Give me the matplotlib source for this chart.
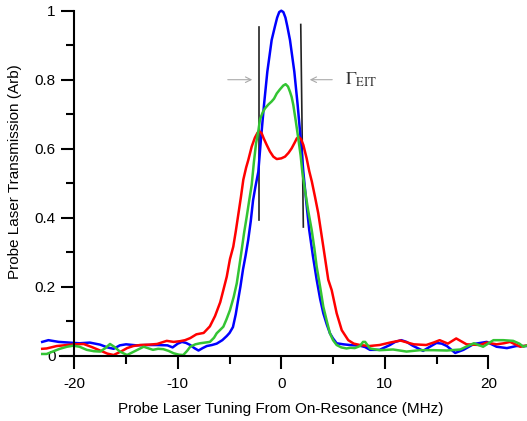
import matplotlib
matplotlib.use("Agg")
import matplotlib.pyplot as plt
from matplotlib.ticker import FixedLocator, FuncFormatter

plt.rcParams["font.family"] = ["Liberation Sans", "DejaVu Sans"]
plt.rcParams["axes.unicode_minus"] = False
plt.rcParams["mathtext.fontset"] = "stix"

# probe detuning (MHz) / transmission (arb)
blue_x = [-23.1, -22.5, -21.5, -20.5, -19.5, -18.5, -17.5, -16.8, -16.2, -15.6, -15.0,
          -14.0, -13.0, -12.0, -11.0, -10.5, -10.0, -9.6, -9.2, -8.8, -8.4, -8.0, -7.6,
          -7.2, -6.7, -6.24, -5.7, -5.27, -5.0, -4.67, -4.4, -4.18, -3.95, -3.7, -3.45,
          -3.2, -2.95, -2.73, -2.5, -2.22, -1.96, -1.67, -1.35, -0.93, -0.61, -0.4, -0.2,
          0.0, 0.2, 0.4, 0.58, 0.84, 1.26, 1.58, 1.87, 2.13, 2.4, 2.7, 3.05, 3.42, 3.75,
          4.06, 4.4, 4.7, 5.0, 5.35, 6.0, 6.6, 7.1, 7.6, 8.1, 8.57, 9.5, 10.5, 11.0, 11.6,
          12.1, 12.7, 13.7, 14.3, 15.0, 15.5, 16.0, 16.8, 17.6, 18.6, 19.85, 20.8, 21.8,
          22.7, 23.74]
blue_y = [0.040, 0.045, 0.040, 0.038, 0.036, 0.038, 0.032, 0.024, 0.020, 0.030, 0.033,
          0.030, 0.031, 0.031, 0.030, 0.024, 0.035, 0.040, 0.037, 0.031, 0.022, 0.015, 0.022,
          0.028, 0.031, 0.035, 0.045, 0.057, 0.066, 0.083, 0.120, 0.160, 0.200, 0.250, 0.290,
          0.335, 0.390, 0.450, 0.490, 0.533, 0.630, 0.727, 0.823, 0.915, 0.955, 0.980, 0.996,
          1.000, 0.996, 0.980, 0.955, 0.915, 0.823, 0.727, 0.630, 0.533, 0.450, 0.364, 0.290,
          0.220, 0.165, 0.123, 0.090, 0.065, 0.050, 0.036, 0.033, 0.031, 0.030, 0.029, 0.025,
          0.017, 0.017, 0.031, 0.040, 0.045, 0.040, 0.029, 0.014, 0.025, 0.037, 0.035, 0.028,
          0.008, 0.017, 0.034, 0.040, 0.026, 0.022, 0.028, 0.028]

red_x = [-23.1, -22.67, -21.7, -20.7, -19.9, -19.1, -18.3, -17.5, -16.8, -16.2, -15.5,
         -14.9, -14.3, -13.65, -12.8, -12.0, -11.07, -10.4, -9.8, -9.3, -8.8, -8.2, -7.5,
         -6.9, -6.4, -5.9, -5.6, -5.27, -4.96, -4.64, -4.4, -4.15, -3.9, -3.67, -3.4, -3.19,
         -2.86, -2.55, -2.3, -2.1, -1.9, -1.7, -1.41, -1.1, -0.77, -0.44, 0.0, 0.36, 0.7,
         1.0, 1.3, 1.5, 1.7, 1.9, 2.13, 2.45, 2.7, 2.95, 3.26, 3.57, 4.06, 4.54, 4.87, 5.35,
         5.84, 6.47, 7.0, 7.6, 8.5, 9.5, 10.5, 11.5, 12.2, 12.8, 14.0, 14.7, 15.3, 16.1,
         16.9, 17.9, 19.2, 19.85, 20.8, 21.5, 22.1, 23.1, 23.74]
red_y = [0.020, 0.021, 0.028, 0.031, 0.033, 0.034, 0.025, 0.015, 0.006, 0.002, 0.012,
         0.022, 0.028, 0.031, 0.032, 0.034, 0.043, 0.040, 0.042, 0.045, 0.051, 0.062, 0.066,
         0.085, 0.115, 0.155, 0.190, 0.229, 0.280, 0.316, 0.360, 0.410, 0.460, 0.510, 0.545,
         0.567, 0.606, 0.632, 0.646, 0.650, 0.645, 0.630, 0.611, 0.592, 0.577, 0.570, 0.572,
         0.577, 0.588, 0.601, 0.618, 0.630, 0.634, 0.628, 0.611, 0.572, 0.535, 0.505, 0.460,
         0.413, 0.316, 0.220, 0.190, 0.123, 0.074, 0.045, 0.035, 0.031, 0.028, 0.031, 0.038,
         0.044, 0.038, 0.033, 0.031, 0.038, 0.045, 0.035, 0.050, 0.033, 0.031, 0.038, 0.033,
         0.036, 0.040, 0.026, 0.030]

green_x = [-23.1, -22.67, -22.0, -21.4, -20.7, -20.1, -19.5, -18.8, -18.1, -17.5, -17.0,
           -16.55, -16.1, -15.6, -14.9, -14.1, -13.3, -12.8, -12.4, -11.9, -11.4, -10.9,
           -10.4, -9.9, -9.47, -9.1, -8.8, -8.3, -7.85, -6.9, -6.5, -6.24, -5.6, -5.3, -4.96,
           -4.6, -4.3, -4.05, -3.83, -3.6, -3.34, -3.1, -2.86, -2.65, -2.44, -2.2, -2.06,
           -1.8, -1.57, -1.25, -0.93, -0.7, -0.44, -0.13, 0.19, 0.42, 0.65, 0.84, 1.0, 1.16,
           1.4, 1.64, 1.87, 2.03, 2.29, 2.6, 2.94, 3.2, 3.42, 3.75, 4.06, 4.4, 4.7, 5.0,
           5.35, 5.8, 6.3, 6.7, 7.1, 7.6, 7.9, 8.1, 8.57, 9.5, 10.8, 12.1, 13.4, 14.7, 16.0,
           17.3, 18.0, 18.6, 19.5, 20.5, 21.45, 22.4, 23.0, 23.4, 23.74]
green_y = [0.005, 0.005, 0.013, 0.020, 0.026, 0.029, 0.026, 0.017, 0.013, 0.012, 0.022,
           0.034, 0.025, 0.012, 0.002, 0.014, 0.026, 0.021, 0.017, 0.020, 0.019, 0.014,
           0.007, 0.003, 0.002, 0.014, 0.026, 0.033, 0.036, 0.040, 0.052, 0.065, 0.084, 0.105,
           0.132, 0.170, 0.210, 0.260, 0.306, 0.355, 0.403, 0.450, 0.495, 0.560, 0.615, 0.655,
           0.685, 0.705, 0.717, 0.728, 0.737, 0.745, 0.760, 0.772, 0.783, 0.787, 0.780, 0.765,
           0.750, 0.727, 0.680, 0.630, 0.580, 0.533, 0.480, 0.420, 0.364, 0.310, 0.258, 0.200,
           0.142, 0.100, 0.065, 0.045, 0.031, 0.024, 0.021, 0.023, 0.022, 0.028, 0.040, 0.040,
           0.021, 0.016, 0.018, 0.012, 0.016, 0.016, 0.015, 0.018, 0.028, 0.036, 0.026, 0.045,
           0.045, 0.043, 0.035, 0.026, 0.030]

# EIT linewidth markers (x at bottom/top, y span)
eit_left_x = [-2.15, -2.15]
eit_left_y = [0.393, 0.954]
eit_right_x = [2.13, 1.88]
eit_right_y = [0.373, 0.960]

fig = plt.figure(figsize=(5.27, 4.21), dpi=100)
ax = fig.add_axes([42 / 527, 65.3 / 421, 485 / 527, 345 / 421])

ax.plot(eit_left_x, eit_left_y, color="#222222", lw=1.2)
ax.plot(eit_right_x, eit_right_y, color="#222222", lw=1.2)

ax.plot(blue_x, blue_y, color="#0000ff", lw=1.8, clip_on=False)
ax.plot(red_x, red_y, color="#ff0000", lw=1.8, clip_on=False)
ax.plot(green_x, green_y, color="#33c433", lw=1.8, clip_on=False)

arrow = dict(arrowstyle="->", color="#aaaaaa", lw=0.8)
ax.annotate("", xy=(-2.54, 0.8), xytext=(-5.44, 0.8), arrowprops=arrow)
ax.annotate("", xy=(2.48, 0.8), xytext=(5.19, 0.8), arrowprops=arrow)
ax.text(6.15, 0.785, r"$\Gamma_{\mathrm{EIT}}$", fontsize=13, color="#333333",
        ha="left", va="baseline")

ax.set_xlim(-23.12, 23.74)
ax.set_ylim(0, 1)

for s in ("top", "right"):
    ax.spines[s].set_visible(False)
ax.spines["left"].set_position(("data", -20))
ax.spines["bottom"].set_position(("data", 0))
ax.spines["left"].set_bounds(0, 1)
ax.spines["bottom"].set_bounds(-21.4, 20)
for s in ("left", "bottom"):
    ax.spines[s].set_linewidth(1.5)

ax.xaxis.set_major_locator(FixedLocator([-20, -10, 0, 10, 20]))
ax.xaxis.set_minor_locator(FixedLocator([-15, -5, 5, 15]))
ax.yaxis.set_major_locator(FixedLocator([0, 0.2, 0.4, 0.6, 0.8, 1.0]))
ax.yaxis.set_minor_locator(FixedLocator([0.1, 0.3, 0.5, 0.7, 0.9]))
ax.yaxis.set_major_formatter(FuncFormatter(lambda v, p: f"{v:g}"))
ax.tick_params(which="major", length=9.5, width=1.5, labelsize=11, pad=4)
ax.tick_params(which="minor", length=5.5, width=1.5)
ax.tick_params(axis="x", which="major", pad=6)

ax.set_xlabel("Probe Laser Tuning From On-Resonance (MHz)", fontsize=11, va="center")
ax.set_ylabel("Probe Laser Transmission (Arb)", fontsize=11, va="center")
ax.xaxis.set_label_coords((281 - 42) / 485, (355.7 - 409) / 345)
ax.yaxis.set_label_coords((15 - 42) / 485, (355.7 - 172) / 345)

fig.savefig("out.png", dpi=100)
